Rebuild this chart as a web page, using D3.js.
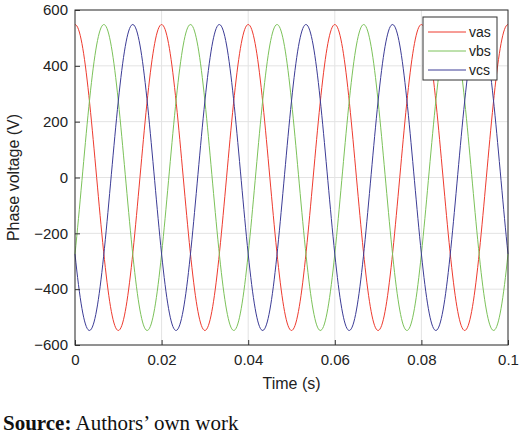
<!DOCTYPE html><html><head><meta charset="utf-8"><script src="https://d3js.org/d3.v7.min.js"></script>
<style>body{margin:0;background:#fff}</style></head><body><svg id="c" width="520" height="441"></svg>
<script>
const seriesNames=["vas","vbs","vcs"];
const seriesColors=["#ee3b2f","#7cc25a","#3c3c96"];
const amplitudes=[548,548,548];
const phasesDeg=[0,-120,120];
const frequencyHz=50;
const xTicks=[0,0.02,0.04,0.06,0.08,0.1];
const yTicks=[-600,-400,-200,0,200,400,600];
const svg=d3.select("#c");
const m={l:75,r:508,t:10,b:345};
const x=d3.scaleLinear().domain([0,0.1]).range([m.l,m.r]);
const y=d3.scaleLinear().domain([-600,600]).range([m.b,m.t]);
const g=svg.append("g");
g.selectAll(".gx").data(xTicks).enter().append("line").attr("x1",d=>x(d)).attr("x2",d=>x(d)).attr("y1",m.t).attr("y2",m.b).attr("stroke","#e3e3e3");
g.selectAll(".gy").data(yTicks).enter().append("line").attr("y1",d=>y(d)).attr("y2",d=>y(d)).attr("x1",m.l).attr("x2",m.r).attr("stroke","#e3e3e3");
const ts=d3.range(0,0.1+1e-9,0.0002);
const line=d3.line().x(d=>x(d[0])).y(d=>y(d[1]));
seriesNames.forEach((n,i)=>{
  const pts=ts.map(t=>[t,amplitudes[i]*Math.cos(2*Math.PI*frequencyHz*t+phasesDeg[i]*Math.PI/180)]);
  g.append("path").attr("d",line(pts)).attr("fill","none").attr("stroke",seriesColors[i]).attr("stroke-width",1);
});
const font="Liberation Sans, Arial, sans-serif";
svg.append("g").attr("transform",`translate(0,${m.b})`).call(d3.axisBottom(x).tickValues(xTicks).tickFormat(d=>d===0?"0":d3.format("")(+d.toFixed(2))).tickSize(-5).tickPadding(9))
 .call(a=>{a.select(".domain").remove();a.selectAll("text").attr("font-size",15).attr("font-family",font).attr("fill","#222");a.selectAll("line").attr("stroke","#333");});
svg.append("g").attr("transform",`translate(${m.l},0)`).call(d3.axisLeft(y).tickValues(yTicks).tickFormat(d=>String(d).replace("-","\u2212")).tickSize(-5).tickPadding(7))
 .call(a=>{a.select(".domain").remove();a.selectAll("text").attr("font-size",15).attr("font-family",font).attr("fill","#222");a.selectAll("line").attr("stroke","#333");});
svg.append("rect").attr("x",m.l).attr("y",m.t).attr("width",m.r-m.l).attr("height",m.b-m.t).attr("fill","none").attr("stroke","#333").attr("stroke-width",1);
const lg=svg.append("g");
lg.append("rect").attr("x",423).attr("y",17).attr("width",74).attr("height",63).attr("fill","#fff").attr("stroke","#333");
seriesNames.forEach((n,i)=>{
  const yy=32+i*19;
  lg.append("line").attr("x1",428).attr("x2",466).attr("y1",yy).attr("y2",yy).attr("stroke",seriesColors[i]);
  lg.append("text").attr("x",469).attr("y",yy+5).text(n).attr("font-size",14).attr("font-family",font).attr("fill","#222");
});
svg.append("text").attr("x",(m.l+m.r)/2).attr("y",389).attr("text-anchor","middle").text("Time (s)").attr("font-size",16).attr("font-family",font).attr("fill","#222");
svg.append("text").attr("transform",`translate(19,${(m.t+m.b)/2}) rotate(-90)`).attr("text-anchor","middle").text("Phase voltage (V)").attr("font-size",16).attr("font-family",font).attr("fill","#222");
const st=svg.append("text").attr("x",3).attr("y",430).attr("font-family","Liberation Serif, Times New Roman, serif").attr("font-size",21).attr("fill","#111");
st.append("tspan").attr("font-weight","bold").text("Source:");
st.append("tspan").text(" Authors\u2019 own work");
</script></body></html>
